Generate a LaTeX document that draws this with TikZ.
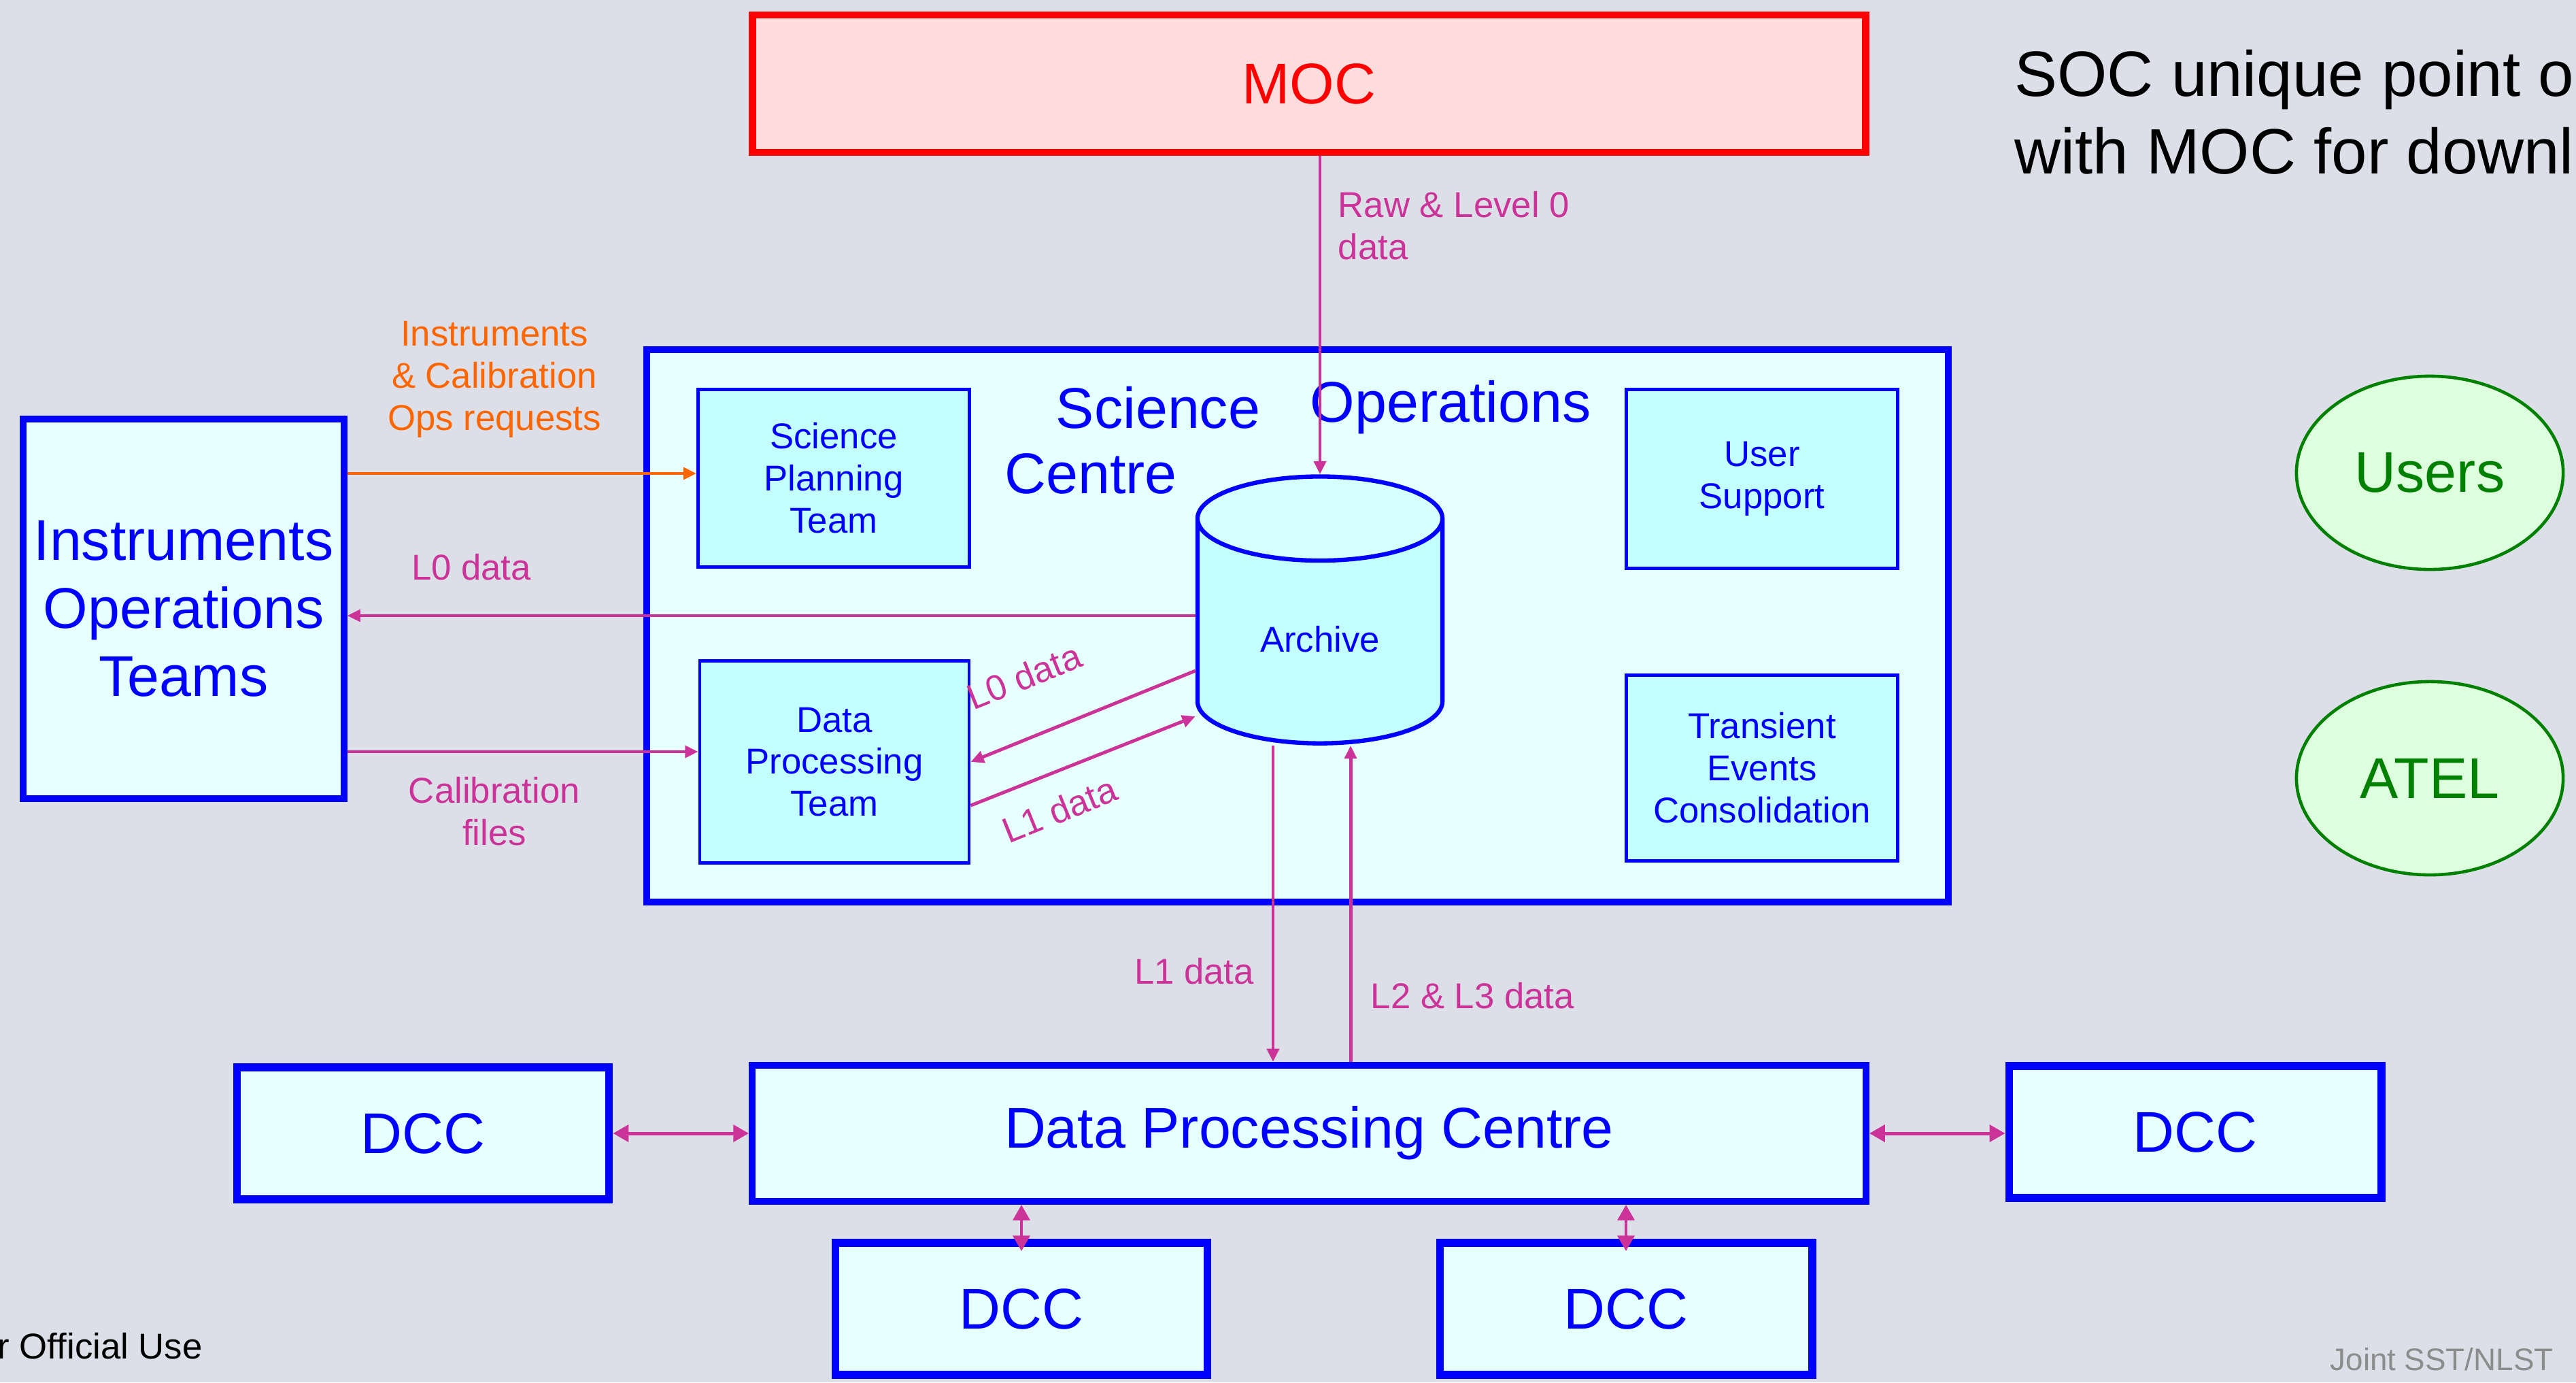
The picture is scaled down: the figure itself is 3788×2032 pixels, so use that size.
\documentclass[tikz,border=0pt]{standalone}
\usepackage{fontspec}
\setmainfont{Liberation Sans}
\usetikzlibrary{positioning}
\usetikzlibrary{shapes.geometric}
\usetikzlibrary{arrows.meta}
\definecolor{skygrey}{RGB}{220,223,232}
\definecolor{palecyan}{RGB}{230,255,255}
\definecolor{midcyan}{RGB}{196,255,255}
\definecolor{topcyan}{RGB}{214,255,255}
\definecolor{mocpink}{RGB}{255,221,221}
\definecolor{flowpink}{RGB}{204,51,153}
\definecolor{opsorange}{RGB}{255,102,0}
\definecolor{extgreen}{RGB}{0,128,0}
\definecolor{extfill}{RGB}{221,255,221}
\definecolor{footgrey}{RGB}{140,140,140}
\tikzset{x=0.01cm, y=-0.01cm,
bigbox/.style={
draw=blue,
line width=2.8pt,
fill=palecyan,
text=blue,
align=center,
font=\fontsize{24}{28.5}\selectfont},
team/.style={
draw=blue,
line width=1.3pt,
fill=midcyan,
text=blue,
align=center,
font=\fontsize{15}{17.6}\selectfont},
dcc/.style={bigbox,
line width=3.3pt,
minimum width=5.47cm,
minimum height=1.94cm},
outside/.style={
ellipse,
draw=extgreen,
line width=1.3pt,
fill=extfill,
text=extgreen,
font=\fontsize{24}{28}\selectfont,
minimum width=3.92cm,
minimum height=2.84cm},
flow/.style={
draw=flowpink,
line width=1.4pt,
-{Triangle[length=5.5pt,width=5pt]}},
both/.style={
draw=flowpink,
line width=1.4pt,
{Triangle[length=6.5pt,width=7pt]}-{Triangle[length=6.5pt,width=7pt]}},
lbl/.style={
text=flowpink,
inner sep=0pt,
align=center,
font=\fontsize{15}{17.6}\selectfont},
title/.style={
text=blue,
inner sep=0pt,
font=\fontsize{24}{28.5}\selectfont}}

\begin{document}
\begin{tikzpicture}
\useasboundingbox (0,0) rectangle (3788,2032);
\clip (0,0) rectangle (3788,2032);
\fill[skygrey] (0,0) rectangle (3788,2032);

\node[bigbox, draw=red, fill=mocpink, text=red, line width=3pt, minimum width=16.36cm, minimum height=2.02cm] (moc) at (1925,123) {MOC};
\node[bigbox, minimum width=19.13cm, minimum height=8.11cm] (soc) at (1908,920) {};
\node[title] (sci) at (1703,599) {Science};
\node[title] (ops) at (2133,599) {Operations};
\node[title] (ctr) at (1604,696) {Centre};
\node[team, minimum width=3.99cm, minimum height=2.61cm] (spt) at (1226,703) {Science\\Planning\\Team};
\node[team, minimum width=3.96cm, minimum height=2.97cm] (dpt) at (1227,1120) {Data\\Processing\\Team};
\node[team, minimum width=3.99cm, minimum height=2.63cm] (usup) at (2591,704) {User\\Support};
\node[team, minimum width=3.99cm, minimum height=2.73cm] (tec) at (2591,1129) {Transient\\Events\\Consolidation};
\node[cylinder, shape border rotate=90, aspect=0.62, draw=blue, line width=1.8pt,
  cylinder uses custom fill, cylinder body fill=midcyan, cylinder end fill=topcyan,
  minimum width=3.6cm, minimum height=3.92cm, text=blue,
  font=\fontsize{15}{17.6}\selectfont] (archive) at (1941,940) {Archive};
\node[bigbox, minimum width=4.71cm, minimum height=5.58cm] (ito) at (270,895) {Instruments\\Operations\\Teams};
\node[outside] (users) at (3573,695) {Users};
\node[outside] (atel) at (3573,1144) {ATEL};
\node[bigbox, minimum width=16.37cm, minimum height=2.0cm] (dpc) at (1925,1666) {Data Processing Centre};
\node[dcc] (dccl) at (622,1666) {DCC};
\node[dcc] (dccr) at (3228,1664) {DCC};
\node[dcc] (dccbl) at (1502,1924) {DCC};
\node[dcc] (dccbr) at (2391,1924) {DCC};

\node[inner sep=0pt, anchor=west, align=left, font=\fontsize{26.8}{32.5}\selectfont] (note) at (2962,165) {SOC unique point o\\with MOC for downl};
\node[inner sep=0pt, anchor=west, font=\fontsize{15}{18}\selectfont] (offuse) at (-4,1979) {r Official Use};
\node[inner sep=0pt, anchor=west, text=footgrey, font=\fontsize{13}{16}\selectfont] (joint) at (3426,1998) {Joint SST/NLST};

\draw[flow] (moc.south -| archive.north) -- (archive.north);
\draw[flow, draw=opsorange] ([yshift=0.07cm]ito.east |- spt.west) -- ([yshift=0.07cm]spt.west);
\draw[flow] ([yshift=0.35cm]archive.west) -- ([yshift=0.35cm]archive.west -| ito.east);
\draw[flow] ([yshift=0.15cm]ito.east |- dpt.west) -- ([yshift=0.15cm]dpt.west);
\draw[flow] ([yshift=-0.46cm]archive.west) -- (dpt.east);
\draw[flow] ([yshift=-0.64cm]dpt.east) -- ([yshift=-1.13cm]archive.west);
\draw[flow] ([xshift=-0.69cm]archive.south) -- ([xshift=-0.69cm]archive.south |- dpc.north);
\draw[flow] ([xshift=0.45cm]archive.south |- dpc.north) -- ([xshift=0.45cm]archive.south);
\draw[both] (dccl) -- (dpc);
\draw[both] (dpc.east) -- (dpc.east -| dccr.west);
\draw[both] (dpc.south -| dccbl.north) -- ([yshift=-0.18cm]dccbl.north);
\draw[both] (dpc.south -| dccbr.north) -- ([yshift=-0.18cm]dccbr.north);

\node[lbl, anchor=west, align=left] (rawlbl) at (1967,332) {Raw \& Level 0\\data};
\node[lbl, text=opsorange] (opslbl) at (727,558) {Instruments\\\& Calibration\\Ops requests};
\node[lbl] (l0ito) at (693,834) {L0 data};
\node[lbl] (callbl) at (727,1193) {Calibration\\files};
\node[lbl, rotate=22] (l0dpt) at (1506,994) {L0 data};
\node[lbl, rotate=22] (l1dpt) at (1558,1190) {L1 data};
\node[lbl] (l1dpc) at (1756,1428) {L1 data};
\node[lbl, anchor=west] (l23dpc) at (2015,1464) {L2 \& L3 data};
\end{tikzpicture}
\end{document}
